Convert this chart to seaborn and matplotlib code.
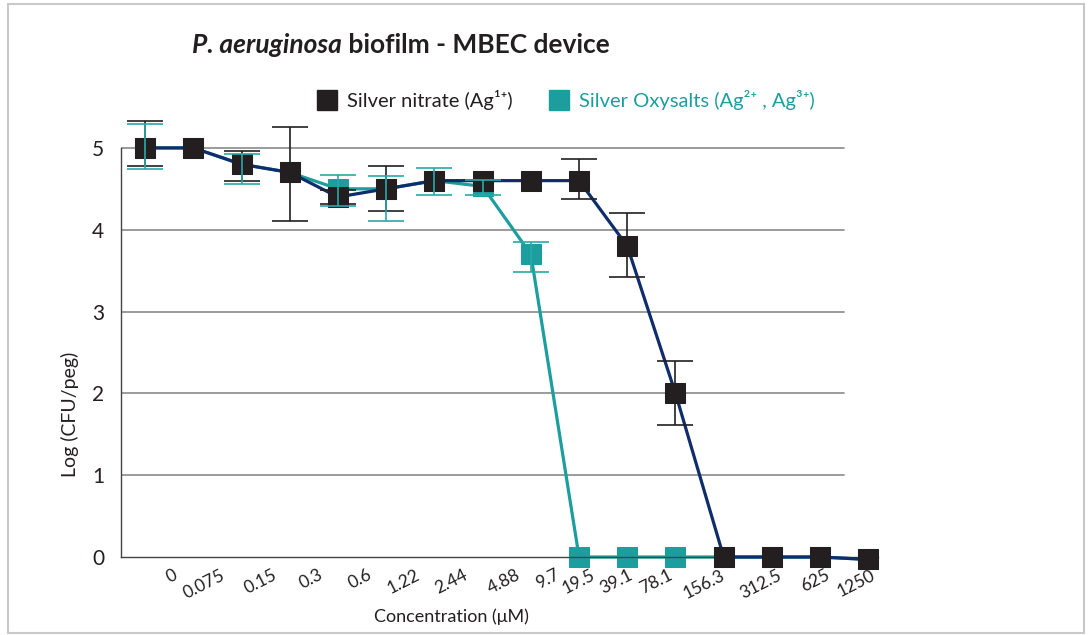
import numpy as np
import pandas as pd
import matplotlib
matplotlib.use("Agg")
import matplotlib.pyplot as plt
import seaborn as sns
from matplotlib.lines import Line2D
from matplotlib.patches import Rectangle

# Data ######################################################################

conc_labels = ["0", "0.075", "0.15", "0.3", "0.6", "1.22", "2.44", "4.88",
               "9.7", "19.5", "39.1", "78.1", "156.3", "312.5", "625", "1250"]

nitrate     = [5.0, 5.0, 4.8, 4.7, 4.4, 4.5, 4.6, 4.6,
               4.6, 4.6, 3.8, 2.0, 0.0, 0.0, 0.0, -0.03]
nitrate_lo  = [0.22, 0, 0.20, 0.59, 0.08, 0.27, 0, 0,
               0, 0.22, 0.38, 0.39, 0, 0, 0, 0]
nitrate_hi  = [0.33, 0, 0.16, 0.55, 0.08, 0.28, 0, 0,
               0, 0.27, 0.40, 0.40, 0, 0, 0, 0]

oxysalt     = [5.0, 5.0, 4.8, 4.7, 4.5, 4.5, 4.6, 4.53,
               3.7, 0.0, 0.0, 0.0, 0.0, 0.0, 0.0, -0.03]
oxysalt_lo  = [0.26, 0, 0.24, 0, 0.21, 0.39, 0.17, 0.10,
               0.22, 0, 0, 0, 0, 0, 0, 0]
oxysalt_hi  = [0.29, 0, 0.13, 0, 0.17, 0.16, 0.15, 0.08,
               0.15, 0, 0, 0, 0, 0, 0, 0]

# where each rotated label ends (x, in category units)
label_pos = [0.56, 1.56, 2.63, 3.59, 4.61, 5.60, 6.60, 7.68,
             8.51, 9.23, 10.02, 10.85, 11.93, 13.11, 14.11, 15.04]

NAVY = "#0f2d6b"
BLACK = "#231f20"
TEAL = "#1c9e9e"
TEAL_ERR = "#2aa8a8"

pos = np.arange(len(conc_labels))
df = pd.DataFrame({
    "pos": np.concatenate([pos, pos]),
    "log": nitrate + oxysalt,
    "series": ["nitrate"] * len(pos) + ["oxysalt"] * len(pos),
})

# Figure ####################################################################

sns.set_style("white")
plt.rcParams["font.family"] = ["Lato", "DejaVu Sans"]

fig = plt.figure(figsize=(10.92, 6.35), dpi=100)
ax = fig.add_axes([121 / 1092, 78 / 635, 757 / 1092, 450 / 635])

for y in range(1, 6):
    ax.plot([-0.5, 14.5], [y, y], color="#8a8a8a", lw=1.2, zorder=1)

sns.lineplot(data=df[df.series == "oxysalt"], x="pos", y="log", ax=ax,
             color=TEAL, lw=2.3, marker="s", markersize=14,
             markerfacecolor=TEAL, markeredgecolor=TEAL, zorder=2,
             clip_on=False)
sns.lineplot(data=df[df.series == "nitrate"], x="pos", y="log", ax=ax,
             color=NAVY, lw=2.3, marker="s", markersize=14,
             markerfacecolor=BLACK, markeredgecolor=BLACK, zorder=3,
             clip_on=False)

# error bars only where there is one
for vals, lo, hi, col in [(nitrate, nitrate_lo, nitrate_hi, BLACK),
                          (oxysalt, oxysalt_lo, oxysalt_hi, TEAL_ERR)]:
    lo, hi, vals = np.array(lo), np.array(hi), np.array(vals)
    m = (lo + hi) > 0
    ax.errorbar(pos[m], vals[m], yerr=[lo[m], hi[m]], fmt="none",
                ecolor=col, elinewidth=1.2, capsize=13, capthick=1.2,
                zorder=4, clip_on=False)

ax.set_xlim(-0.5, 15.2)
ax.set_ylim(0, 5.5)
ax.set_yticks(range(6))
ax.set_yticklabels([str(i) for i in range(6)], fontsize=15, color=BLACK)
ax.tick_params(axis="y", length=0, pad=12)

ax.set_xticks(pos[:-1] + 0.5)
ax.set_xticklabels([])
ax.tick_params(axis="x", direction="in", length=7, width=0.9,
               color="#555555")
for p, lab in zip(label_pos, conc_labels):
    ax.text(p, -0.12, lab, rotation=27, rotation_mode="anchor",
            ha="right", va="top", fontsize=12.5, color=BLACK,
            clip_on=False)

for s in ["top", "right"]:
    ax.spines[s].set_visible(False)
ax.spines["left"].set_bounds(0, 5)
ax.spines["left"].set_color("#444444")
ax.spines["bottom"].set_color("#444444")
ax.spines["left"].set_linewidth(1.0)
ax.spines["bottom"].set_linewidth(1.0)

ax.set_xlabel("Concentration (μM)", fontsize=13, color=BLACK)
ax.xaxis.set_label_coords(0.437, -0.115)
ax.set_ylabel("Log (CFU/peg)", fontsize=14, color=BLACK)
ax.yaxis.set_label_coords(-0.055, 0.316)

# Title (italic species name, then the rest) ################################
t1 = fig.text(192 / 1092, 1 - 57 / 635, "P. aeruginosa", fontsize=19,
              fontweight="bold", fontstyle="italic", color=BLACK,
              ha="left", va="bottom")
fig.canvas.draw()
ax.annotate(" biofilm - MBEC device", xy=(1, 0), xycoords=t1,
            fontsize=19, fontweight="bold", color=BLACK,
            ha="left", va="bottom", annotation_clip=False)

# Legend ####################################################################
handles = [
    Line2D([], [], ls="none", marker="s", markersize=14,
           markerfacecolor=BLACK, markeredgecolor=BLACK),
    Line2D([], [], ls="none", marker="s", markersize=14,
           markerfacecolor=TEAL, markeredgecolor=TEAL),
]
leg = fig.legend(handles,
                 ["Silver nitrate (Ag¹⁺)",
                  "Silver Oxysalts (Ag²⁺ , Ag³⁺)"],
                 loc="center", bbox_to_anchor=(566 / 1092, 1 - 100 / 635),
                 ncol=2, frameon=False, fontsize=14.5, handlelength=1.0,
                 handletextpad=0.5, columnspacing=1.8,
                 labelcolor=[BLACK, TEAL])

# light frame around the whole figure
fig.patches.append(Rectangle((8 / 1092, 2 / 635), 1076 / 1092, 629 / 635,
                             transform=fig.transFigure, fill=False,
                             edgecolor="#c8c8c8", lw=1.5))

fig.savefig("out.png", dpi=100)
